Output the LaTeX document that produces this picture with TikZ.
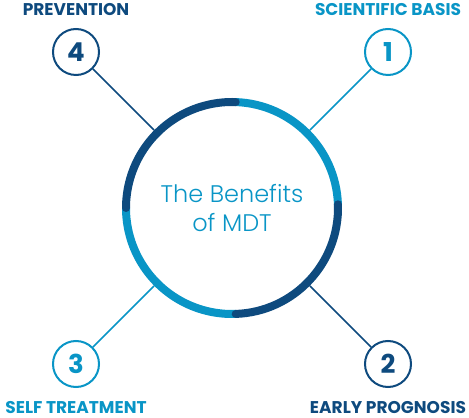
\documentclass[tikz,border=0pt]{standalone}
\usepackage{fontspec}
\setmainfont{Poppins}
\newfontfamily\thinfont{Poppins Light}
\usetikzlibrary{positioning}
\definecolor{mdtdark}{HTML}{0E4A7E}
\definecolor{mdtlight}{HTML}{0995C6}

\begin{document}
\begin{tikzpicture}[
  x=1pt, y=1pt,
  node distance=12pt,
  num/.style={draw, circle, line width=2pt, minimum size=46pt, inner sep=0pt, font=\bfseries\fontsize{26}{26}\selectfont},
  lbl/.style={inner sep=0pt, font=\bfseries\fontsize{17}{17}\selectfont},
  link/.style={line width=1.5pt},
  seg/.style={line width=8pt, line cap=round}
]
\useasboundingbox (0,0) rectangle (469,418);

% ring in the middle
\node[circle, minimum size=220pt, inner sep=0pt] (ring) at (232,210) {};
\draw[seg, mdtlight] ([shift={(180:106)}]ring.center) arc[start angle=180, end angle=272, radius=106];
\draw[seg, mdtlight] ([shift={(2:106)}]ring.center) arc[start angle=2, end angle=88, radius=106];
\draw[seg, mdtdark] ([shift={(88:106)}]ring.center) arc[start angle=88, end angle=180, radius=106];
\draw[seg, mdtdark] ([shift={(272:106)}]ring.center) arc[start angle=272, end angle=362, radius=106];
\node[align=center, text=mdtlight, font=\thinfont\fontsize{24}{29}\selectfont] (title) at (ring) {The Benefits\\of MDT};

% numbered circles
\node[num, mdtlight] (n1) at (388,366) {1};
\node[num, mdtdark] (n2) at (388,54) {2};
\node[num, mdtlight] (n3) at (76,54) {3};
\node[num, mdtdark] (n4) at (76,366) {4};

\node[lbl, mdtlight, above=of n1] (basis) {SCIENTIFIC BASIS};
\node[lbl, mdtdark, below=13pt of n2] (prognosis) {EARLY PROGNOSIS};
\node[lbl, mdtlight, below=13pt of n3] (treatment) {SELF TREATMENT};
\node[lbl, mdtdark, above=of n4] (prevention) {PREVENTION};

\draw[link, mdtlight] (n1) -- (ring);
\draw[link, mdtdark] (n2) -- (ring);
\draw[link, mdtlight] (n3) -- (ring);
\draw[link, mdtdark] (n4) -- (ring);
\end{tikzpicture}
\end{document}
